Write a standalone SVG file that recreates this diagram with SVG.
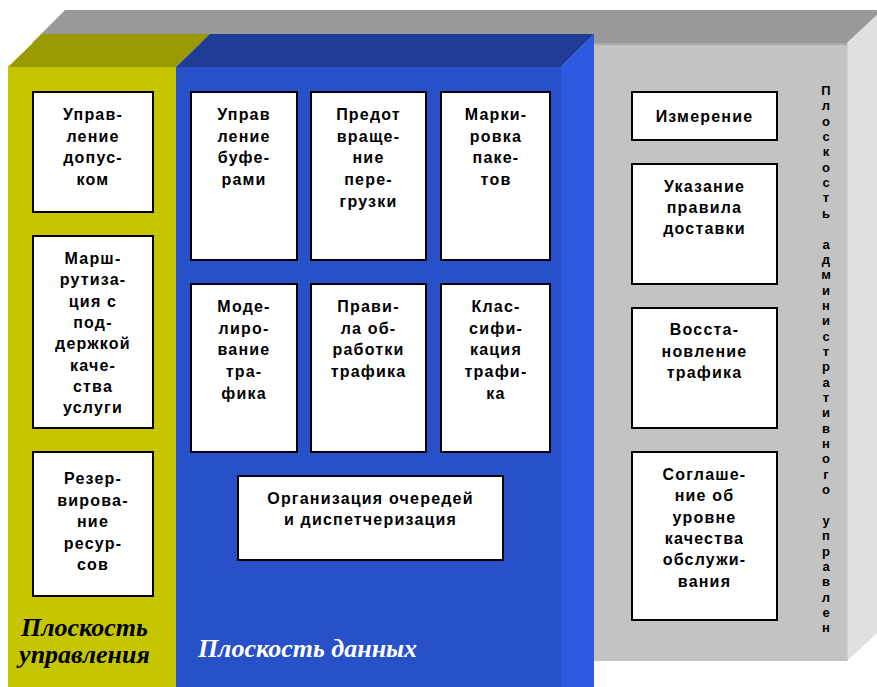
<svg xmlns="http://www.w3.org/2000/svg" width="877" height="687" viewBox="0 0 877 687">
<style>
.box{fill:#ffffff;stroke:#000000;stroke-width:2}
.t{font-family:"Liberation Sans",Arial,sans-serif;font-weight:bold;font-size:16px;letter-spacing:1.2px;fill:#000000;text-anchor:middle}
.v{font-family:"Liberation Sans",Arial,sans-serif;font-weight:bold;font-size:13px;fill:#000000;text-anchor:middle}
.lab{font-family:"Liberation Serif","Times New Roman",serif;font-weight:bold;font-style:italic;font-size:26px;text-anchor:middle}
</style>
<rect width="877" height="687" fill="#ffffff"/>
<g id="plane-admin">
<polygon points="65,10 877,10 877,15 847,43 32,43" fill="#999999"/>
<rect x="560" y="43" width="287" height="618" fill="#c3c3c3"/>
<line x1="560" y1="44" x2="847" y2="44" stroke="#aaaaaa" stroke-width="2"/>
<polygon points="847,43 877,15 877,633 847,661" fill="#e0e0e0"/>
<line x1="847.5" y1="43" x2="847.5" y2="661" stroke="#d0d0d0" stroke-width="1"/>
</g>
<g id="plane-control">
<polygon points="42,34 210,34 176,67 8,67" fill="#999900"/>
<rect x="8" y="67" width="168" height="620" fill="#c6c600"/>
</g>
<g id="plane-data">
<polygon points="210,34 594,34 561,67 176,67" fill="#1f3c96"/>
<rect x="176" y="67" width="385" height="620" fill="#2850c8"/>
<polygon points="594,34 594,687 561,687 561,67" fill="#2d5ae0"/>
</g>
<g id="connectors"></g>
<g id="n-admission">
<rect class="box" x="33" y="92" width="120" height="120"/>
<text class="t"><tspan x="93" y="120">Управ-</tspan><tspan x="93" y="142">ление</tspan><tspan x="93" y="163">допус-</tspan><tspan x="93" y="185">ком</tspan></text>
</g>
<g id="n-qos-routing">
<rect class="box" x="33" y="236" width="120" height="192"/>
<text class="t"><tspan x="93" y="264">Марш-</tspan><tspan x="93" y="285.3">рутиза-</tspan><tspan x="93" y="306.6">ция с</tspan><tspan x="93" y="327.9">под-</tspan><tspan x="93" y="349.2">держкой</tspan><tspan x="93" y="370.5">каче-</tspan><tspan x="93" y="391.8">ства</tspan><tspan x="93" y="413">услуги</tspan></text>
</g>
<g id="n-reservation">
<rect class="box" x="33" y="452" width="120" height="144"/>
<text class="t"><tspan x="93" y="484">Резер-</tspan><tspan x="93" y="505.5">вирова-</tspan><tspan x="93" y="527">ние</tspan><tspan x="93" y="548.5">ресур-</tspan><tspan x="93" y="570">сов</tspan></text>
</g>
<g id="n-buffer">
<rect class="box" x="191" y="92" width="106" height="168"/>
<text class="t"><tspan x="244" y="120">Управ</tspan><tspan x="244" y="141.7">ление</tspan><tspan x="244" y="163.4">буфе-</tspan><tspan x="244" y="185.1">рами</tspan></text>
</g>
<g id="n-congestion">
<rect class="box" x="311" y="92" width="115" height="168"/>
<text class="t"><tspan x="368.5" y="120">Предот</tspan><tspan x="368.5" y="141.7">враще-</tspan><tspan x="368.5" y="163.4">ние</tspan><tspan x="368.5" y="185.1">пере-</tspan><tspan x="368.5" y="206.8">грузки</tspan></text>
</g>
<g id="n-marking">
<rect class="box" x="441" y="92" width="109" height="168"/>
<text class="t"><tspan x="496" y="120">Марки-</tspan><tspan x="496" y="141.7">ровка</tspan><tspan x="496" y="163.4">паке-</tspan><tspan x="496" y="185.1">тов</tspan></text>
</g>
<g id="n-shaping">
<rect class="box" x="191" y="284" width="106" height="168"/>
<text class="t"><tspan x="244" y="312">Моде-</tspan><tspan x="244" y="333.7">лиро-</tspan><tspan x="244" y="355.4">вание</tspan><tspan x="244" y="377.1">тра-</tspan><tspan x="244" y="398.8">фика</tspan></text>
</g>
<g id="n-policing">
<rect class="box" x="311" y="284" width="115" height="168"/>
<text class="t"><tspan x="368.5" y="312">Прави-</tspan><tspan x="368.5" y="333.7">ла об-</tspan><tspan x="368.5" y="355.4">работки</tspan><tspan x="368.5" y="377.1">трафика</tspan></text>
</g>
<g id="n-classification">
<rect class="box" x="441" y="284" width="109" height="168"/>
<text class="t"><tspan x="496" y="312">Клас-</tspan><tspan x="496" y="333.7">сифи-</tspan><tspan x="496" y="355.4">кация</tspan><tspan x="496" y="377.1">трафи-</tspan><tspan x="496" y="398.8">ка</tspan></text>
</g>
<g id="n-queuing">
<rect class="box" x="238" y="476" width="265" height="84"/>
<text class="t"><tspan x="370.5" y="504">Организация очередей</tspan><tspan x="370.5" y="525">и диспетчеризация</tspan></text>
</g>
<g id="n-metering">
<rect class="box" x="632" y="92" width="145" height="48"/>
<text class="t"><tspan x="704.5" y="122">Измерение</tspan></text>
</g>
<g id="n-delivery">
<rect class="box" x="632" y="164" width="145" height="120"/>
<text class="t"><tspan x="704.5" y="192">Указание</tspan><tspan x="704.5" y="213">правила</tspan><tspan x="704.5" y="234">доставки</tspan></text>
</g>
<g id="n-restoration">
<rect class="box" x="632" y="308" width="145" height="120"/>
<text class="t"><tspan x="704.5" y="335">Восста-</tspan><tspan x="704.5" y="356.5">новление</tspan><tspan x="704.5" y="378">трафика</tspan></text>
</g>
<g id="n-sla">
<rect class="box" x="632" y="452" width="145" height="168"/>
<text class="t"><tspan x="704.5" y="480">Соглаше-</tspan><tspan x="704.5" y="501.3">ние об</tspan><tspan x="704.5" y="522.6">уровне</tspan><tspan x="704.5" y="543.9">качества</tspan><tspan x="704.5" y="565.2">обслужи-</tspan><tspan x="704.5" y="586.5">вания</tspan></text>
</g>
<g id="labels">
<text class="lab" fill="#000000"><tspan x="84.5" y="636">Плоскость</tspan><tspan x="84.5" y="663">управления</tspan></text>
<text class="lab" fill="#ffffff" x="307.5" y="657">Плоскость данных</text>
<text class="v"><tspan x="826" y="95">П</tspan><tspan x="826" dy="15.35">л</tspan><tspan x="826" dy="15.35">о</tspan><tspan x="826" dy="15.35">с</tspan><tspan x="826" dy="15.35">к</tspan><tspan x="826" dy="15.35">о</tspan><tspan x="826" dy="15.35">с</tspan><tspan x="826" dy="15.35">т</tspan><tspan x="826" dy="15.35">ь</tspan><tspan x="826" dy="30.7">а</tspan><tspan x="826" dy="15.35">д</tspan><tspan x="826" dy="15.35">м</tspan><tspan x="826" dy="15.35">и</tspan><tspan x="826" dy="15.35">н</tspan><tspan x="826" dy="15.35">и</tspan><tspan x="826" dy="15.35">с</tspan><tspan x="826" dy="15.35">т</tspan><tspan x="826" dy="15.35">р</tspan><tspan x="826" dy="15.35">а</tspan><tspan x="826" dy="15.35">т</tspan><tspan x="826" dy="15.35">и</tspan><tspan x="826" dy="15.35">в</tspan><tspan x="826" dy="15.35">н</tspan><tspan x="826" dy="15.35">о</tspan><tspan x="826" dy="15.35">г</tspan><tspan x="826" dy="15.35">о</tspan><tspan x="826" dy="30.7">у</tspan><tspan x="826" dy="15.35">п</tspan><tspan x="826" dy="15.35">р</tspan><tspan x="826" dy="15.35">а</tspan><tspan x="826" dy="15.35">в</tspan><tspan x="826" dy="15.35">л</tspan><tspan x="826" dy="15.35">е</tspan><tspan x="826" dy="15.35">н</tspan></text>
</g>
</svg>
